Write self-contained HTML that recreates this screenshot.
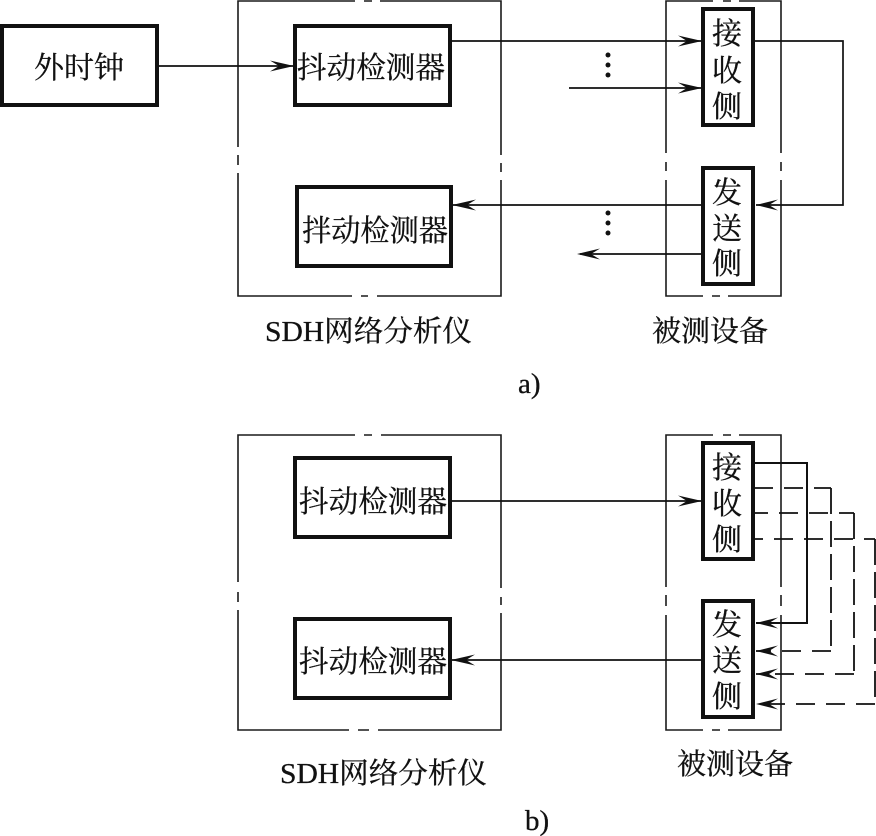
<!DOCTYPE html>
<html lang="zh"><head><meta charset="utf-8"><style>
html,body{margin:0;padding:0;background:#fff}
svg{display:block}
text{font-family:"Liberation Serif","Noto Serif CJK SC",serif;fill:#111;stroke:#111;stroke-width:.3;text-anchor:middle}
.t{font-size:30px}
.l{font-size:29px;text-anchor:start}
.b{fill:#fff;stroke:#111;stroke-width:4}
.o{fill:none;stroke:#1a1a1a;stroke-width:1.6}
.c{fill:none;stroke:#111;stroke-width:1.7}
.d{fill:none;stroke:#111;stroke-width:1.8;stroke-dasharray:19 11}
.v{fill:none;stroke:#111;stroke-width:1.8;stroke-dasharray:26 7}
.a{fill:#111}
</style></head><body>
<svg xmlns="http://www.w3.org/2000/svg" width="876" height="836" viewBox="0 0 876 836">
<rect width="876" height="836" fill="#fff"/>
<!-- a) outer frames -->
<path class="o" d="M355 1H238V147M238 155V165M238 173V296H352M361 296H368M377 296H501V180M501 172V163M501 155V1H380M372 1H364"/>
<path class="o" d="M713 1H666V153M666 162V171M666 180V296H703M712 296H720M728 296H781V180M781 171V162M781 153V1H739M731 1H723"/>
<!-- a) connectors -->
<path class="c" d="M157 66H294"/>
<path class="c" d="M450 41H702"/>
<path class="c" d="M569 88H702"/>
<path class="c" d="M754 41H843V205H756"/>
<path class="c" d="M702 205H451"/>
<path class="c" d="M702 254H580"/>
<polygon class="a" points="294,66 270,60.5 279,66 270,71.5"/>
<polygon class="a" points="702,41 678,35.5 687,41 678,46.5"/>
<polygon class="a" points="702,88 678,82.5 687,88 678,93.5"/>
<polygon class="a" points="756,205 778,199.5 769,205 778,210.5"/>
<polygon class="a" points="452,205 476,199.5 467,205 476,210.5"/>
<polygon class="a" points="577,254 600,248.5 591,254 600,259.5"/>
<circle class="a" cx="608" cy="55" r="2.5"/><circle class="a" cx="608" cy="65" r="2.5"/><circle class="a" cx="608" cy="75" r="2.5"/>
<circle class="a" cx="608" cy="213" r="2.5"/><circle class="a" cx="608" cy="223" r="2.5"/><circle class="a" cx="608" cy="233" r="2.5"/>
<!-- a) boxes -->
<rect class="b" x="2" y="26" width="155" height="79"/>
<rect class="b" x="295" y="26" width="155" height="79"/>
<rect class="b" x="297" y="187" width="154" height="79"/>
<rect class="b" x="703" y="9" width="50" height="116"/>
<rect class="b" x="703" y="168" width="50" height="116"/>
<text class="t" x="79" y="78">外时钟</text>
<text class="t" x="371" y="78" textLength="148" lengthAdjust="spacingAndGlyphs">抖动检测器</text>
<text class="t" x="375" y="241" textLength="146" lengthAdjust="spacingAndGlyphs">拌动检测器</text>
<text class="t" x="727" y="44">接</text><text class="t" x="727" y="81">收</text><text class="t" x="727" y="117">侧</text>
<text class="t" x="727" y="203">发</text><text class="t" x="727" y="239">送</text><text class="t" x="727" y="274">侧</text>
<text class="l" x="265" y="341" textLength="207" lengthAdjust="spacingAndGlyphs">SDH网络分析仪</text>
<text class="l" x="652" y="341" textLength="116" lengthAdjust="spacingAndGlyphs">被测设备</text>
<text class="l" x="518" y="393">a)</text>
<!-- b) outer frames -->
<path class="o" d="M355 435H238V582M238 592V602M238 610V730H349M358 730H369M378 730H501V613M501 605V597M501 588V435H381M372 435H364"/>
<path class="o" d="M713 435H666V587M666 595V606M666 615V730H703M712 730H720M728 730H781V615M781 606V595M781 587V435H739M731 435H723"/>
<!-- b) connectors -->
<path class="c" d="M450 501H702"/>
<path class="c" d="M702 660H451"/>
<polygon class="a" points="702,501 678,495.5 687,501 678,506.5"/>
<polygon class="a" points="451,660 475,654.5 466,660 475,665.5"/>
<path d="M754 463H807V623H756" fill="none" stroke="#111" stroke-width="2"/>
<path class="d" d="M754 488H831"/><path class="v" d="M831 488V651"/><path class="d" d="M831 651H756"/>
<path class="d" d="M755 513H854" stroke-dashoffset="6"/><path class="v" d="M854 513V674"/><path class="d" d="M854 674H756"/>
<path class="d" d="M755 539H875" stroke-dashoffset="11"/><path class="v" d="M875 539V704"/><path class="d" d="M875 704H756"/>
<polygon class="a" points="756,623 778,617.5 769,623 778,628.5"/>
<polygon class="a" points="756,651 778,645.5 769,651 778,656.5"/>
<polygon class="a" points="756,674 778,668.5 769,674 778,679.5"/>
<polygon class="a" points="756,704 778,698.5 769,704 778,709.5"/>
<!-- b) boxes -->
<rect class="b" x="295" y="458" width="155" height="79"/>
<rect class="b" x="295" y="619" width="155" height="79"/>
<rect class="b" x="703" y="443" width="50" height="116"/>
<rect class="b" x="703" y="601" width="50" height="116"/>
<text class="t" x="373" y="512" textLength="148" lengthAdjust="spacingAndGlyphs">抖动检测器</text>
<text class="t" x="373" y="672" textLength="148" lengthAdjust="spacingAndGlyphs">抖动检测器</text>
<text class="t" x="727" y="478">接</text><text class="t" x="727" y="514">收</text><text class="t" x="727" y="550">侧</text>
<text class="t" x="727" y="635">发</text><text class="t" x="727" y="671">送</text><text class="t" x="727" y="707">侧</text>
<text class="l" x="280" y="783" textLength="207" lengthAdjust="spacingAndGlyphs">SDH网络分析仪</text>
<text class="l" x="677" y="774" textLength="116" lengthAdjust="spacingAndGlyphs">被测设备</text>
<text class="l" x="525" y="830">b)</text>
</svg>
</body></html>
